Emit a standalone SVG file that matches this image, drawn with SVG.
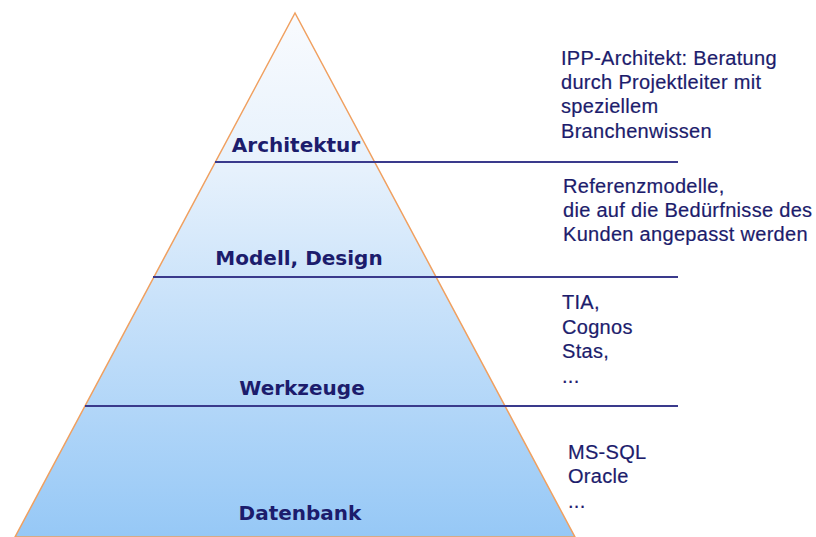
<svg xmlns="http://www.w3.org/2000/svg" width="816" height="537" viewBox="0 0 816 537">
<style>
.lbl{font-family:"DejaVu Sans",Verdana,sans-serif;font-weight:bold;font-size:20px;fill:#1c1c6c;text-anchor:middle}
.desc{font-family:"Liberation Sans",Arial,sans-serif;font-size:20px;fill:#1c1c6c;letter-spacing:0.3px;stroke:#1c1c6c;stroke-width:0.2}
.sep{stroke:#3a3a8c;stroke-width:2;fill:none}
</style>
<defs>
<linearGradient id="g" x1="0" y1="13" x2="0" y2="537" gradientUnits="userSpaceOnUse">
<stop offset="0" stop-color="#f9fbfe"/>
<stop offset="0.3" stop-color="#e6f1fc"/>
<stop offset="0.55" stop-color="#c9e2fa"/>
<stop offset="1" stop-color="#96c8f6"/>
</linearGradient>
</defs>
<rect width="816" height="537" fill="#ffffff"/>
<g id="pyramid">
<polygon points="295,13 15,537 575,537" fill="url(#g)" stroke="#f0a060" stroke-width="1.5"/>
</g>
<g id="connectors">
<line class="sep" x1="215" y1="162" x2="678" y2="162"/>
<line class="sep" x1="153" y1="277" x2="678" y2="277"/>
<line class="sep" x1="85" y1="406" x2="678" y2="406"/>
</g>
<g id="architektur">
<text class="lbl" x="296" y="152">Architektur</text>
<text class="desc" x="561" y="65">IPP-Architekt: Beratung</text>
<text class="desc" x="561" y="89">durch Projektleiter mit</text>
<text class="desc" x="561" y="113">speziellem</text>
<text class="desc" x="561" y="138">Branchenwissen</text>
</g>
<g id="modell">
<text class="lbl" x="299" y="265">Modell, Design</text>
<text class="desc" x="563" y="193">Referenzmodelle,</text>
<text class="desc" x="563" y="217">die auf die Bedürfnisse des</text>
<text class="desc" x="563" y="241">Kunden angepasst werden</text>
</g>
<g id="werkzeuge">
<text class="lbl" x="302" y="395">Werkzeuge</text>
<text class="desc" x="562" y="309">TIA,</text>
<text class="desc" x="562" y="334">Cognos</text>
<text class="desc" x="562" y="358">Stas,</text>
<text class="desc" x="562" y="383">...</text>
</g>
<g id="datenbank">
<text class="lbl" x="300" y="520">Datenbank</text>
<text class="desc" x="568" y="459">MS-SQL</text>
<text class="desc" x="568" y="483">Oracle</text>
<text class="desc" x="568" y="508">...</text>
</g>
</svg>
